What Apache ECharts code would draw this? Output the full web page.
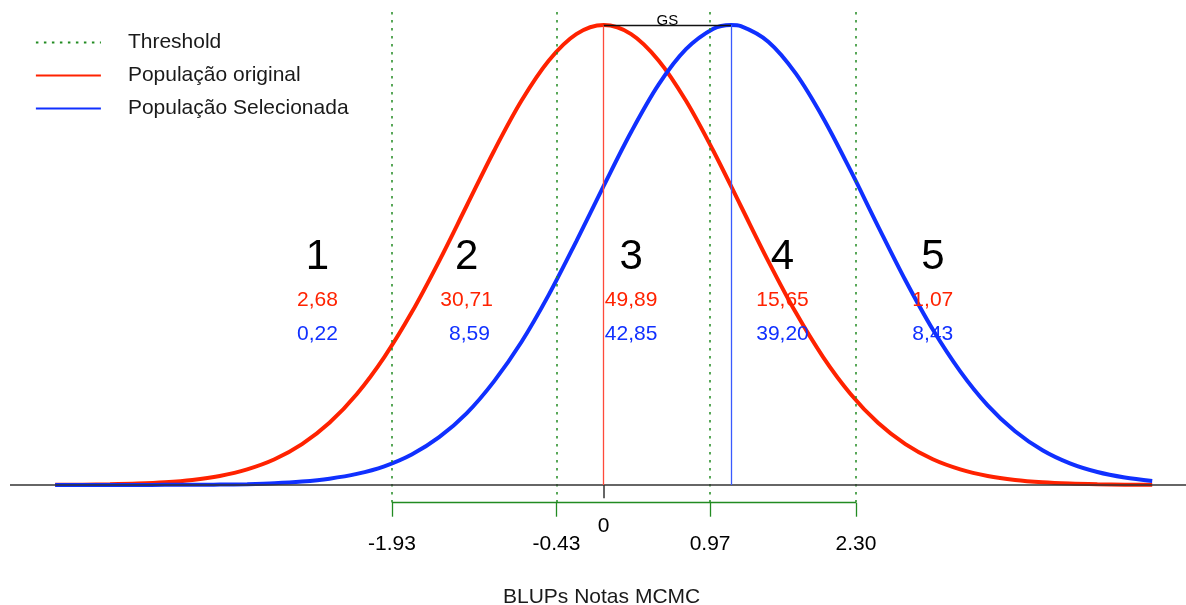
<!DOCTYPE html>
<html lang="pt" style="height: 100%">
<head>
  <meta charset="utf-8">
</head>
<body style="height: 100%; margin: 0; background: #fff">
  <div id="container" style="width: 1186px; height: 605px;"></div>

  <script type="text/javascript" src="https://cdn.jsdelivr.net/npm/echarts@6/dist/echarts.min.js"></script>
  <script type="text/javascript">
    // x grid where the red curve was read (BLUP scale)
    var originalX = [-5, -4.75, -4.5, -4.25, -4, -3.75, -3.5, -3.25, -3, -2.75, -2.5, -2.25, -2, -1.75, -1.5, -1.25, -1, -0.75, -0.5, -0.25,
      0, 0.25, 0.5, 0.75, 1, 1.25, 1.5, 1.75, 2, 2.25, 2.5, 2.75, 3, 3.25, 3.5, 3.75, 4, 4.25, 4.5, 4.75, 5];

    // density (original population)
    var originalDensity = [0.0001, 0.0002, 0.0005, 0.0010, 0.0019, 0.0035, 0.0063, 0.0109, 0.0179, 0.0284, 0.0432, 0.0632, 0.0888, 0.1198, 0.1554, 0.1936, 0.2318, 0.2666, 0.2946, 0.3129,
      0.3192, 0.3129, 0.2946, 0.2666, 0.2318, 0.1936, 0.1554, 0.1198, 0.0888, 0.0632, 0.0432, 0.0284, 0.0179, 0.0109, 0.0063, 0.0035, 0.0019, 0.0010, 0.0005, 0.0002, 0.0001];

    // x grid where the blue curve was read (its peak included)
    var selectedX = [-5, -4.75, -4.5, -4.25, -4, -3.75, -3.5, -3.25, -3, -2.75, -2.5, -2.25, -2, -1.75, -1.5, -1.25, -1, -0.75, -0.5, -0.25,
      0, 0.25, 0.5, 0.75, 1, 1.16, 1.25, 1.5, 1.75, 2, 2.25, 2.5, 2.75, 3, 3.25, 3.5, 3.75, 4, 4.25, 4.5, 4.75, 5];

    // density (selected population)
    var selectedDensity = [0.0000, 0.0000, 0.0000, 0.0000, 0.0001, 0.0001, 0.0003, 0.0006, 0.0012, 0.0024, 0.0044, 0.0077, 0.0130, 0.0212, 0.0332, 0.0497, 0.0719, 0.0992, 0.1321, 0.1691,
      0.2075, 0.2449, 0.2778, 0.3024, 0.3166, 0.3192, 0.3184, 0.3076, 0.2856, 0.2547, 0.2183, 0.1797, 0.1421, 0.1079, 0.0789, 0.0553, 0.0373, 0.0241, 0.0150, 0.0090, 0.0052, 0.0028];

    var originalMean = 0;
    var selectedMean = 1.16;
    var peakDensity = 0.3192;

    var thresholds = [-1.93, -0.43, 0.97, 2.30];

    var zoneNames = ['1', '2', '3', '4', '5'];
    var zoneX = [-2.61, -1.25, 0.25, 1.63, 3.0];
    var pctOriginal = [2.68, 30.71, 49.89, 15.65, 1.07];
    var pctSelected = [0.22, 8.59, 42.85, 39.20, 8.43];

    // vertical placement of the annotations, in density units
    var Y_MAX = 0.33655, Y_MIN = -0.08327;
    var Y_TOP = 0.3282, Y_BRACKET = -0.0123, Y_TICK = -0.0220, Y_ZERO_TICK = -0.0092;
    var Y_ZERO_LABEL = -0.0285, Y_THR_LABEL = -0.0412;
    var Y_ZONE = 0.1582, Y_PCT_ORIG = 0.1280, Y_PCT_SEL = 0.1048, Y_GS = 0.3223;

    var FONT = '"Liberation Sans", Arial, Helvetica, sans-serif';
    var GREEN = '#228b22';
    var RED = '#ff2200';
    var BLUE = '#1030ff';
    var DOTS = [2.5, 5.5];

    function pct(v) { return v.toFixed(2).replace('.', ','); }

    var redPts = originalX.map(function (x, i) { return [x, originalDensity[i]]; });
    var bluePts = selectedX.map(function (x, i) { return [x, selectedDensity[i]]; });

    var noSym = ['none', 'none'];

    // dotted threshold lines
    var thrLines = thresholds.map(function (t) {
      return [{ coord: [t, Y_TOP] }, { coord: [t, Y_BRACKET] }];
    });

    // bracket under the axis
    var bracketLines = [[{ coord: [thresholds[0], Y_BRACKET] }, { coord: [thresholds[thresholds.length - 1], Y_BRACKET] }]];
    thresholds.forEach(function (t) {
      bracketLines.push([{ coord: [t, Y_BRACKET] }, { coord: [t, Y_TICK] }]);
    });

    // texts
    var texts = [];
    zoneNames.forEach(function (z, k) {
      var a = pct(pctOriginal[k]), b = pct(pctSelected[k]);
      var w = Math.max(a.length, b.length);
      a = a.padStart(w, ' ');
      b = b.padStart(w, ' ');
      texts.push({ value: [zoneX[k], Y_ZONE], label: { formatter: z, fontSize: 42, color: '#000' } });
      texts.push({ value: [zoneX[k], Y_PCT_ORIG], label: { formatter: a, fontSize: 21, color: RED } });
      texts.push({ value: [zoneX[k], Y_PCT_SEL], label: { formatter: b, fontSize: 21, color: BLUE } });
    });
    thresholds.forEach(function (t) {
      texts.push({ value: [t, Y_THR_LABEL], label: { formatter: t.toFixed(2), fontSize: 21, color: '#000' } });
    });
    texts.push({ value: [originalMean, Y_ZERO_LABEL], label: { formatter: '0', fontSize: 21, color: '#000' } });
    texts.push({ value: [(originalMean + selectedMean) / 2, Y_GS], label: { formatter: 'GS', fontSize: 15, color: '#000' } });

    var dom = document.getElementById('container');
    var myChart = echarts.init(dom, null, { renderer: 'canvas' });

    var option = {
      animation: false,
      textStyle: { fontFamily: FONT },
      title: {
        text: 'BLUPs Notas MCMC',
        left: 503,
        top: 587,
        padding: 0,
        textStyle: { fontSize: 21, fontWeight: 'normal', color: '#1a1a1a', fontFamily: FONT }
      },
      legend: {
        orient: 'vertical',
        left: 30,
        top: 27,
        itemWidth: 65,
        itemHeight: 14,
        itemGap: 12,
        data: ['Threshold', 'População original', 'População Selecionada'],
        lineStyle: { width: 1.8 },
        itemStyle: { opacity: 0, borderWidth: 0 },
        textStyle: { fontSize: 21, color: '#1a1a1a', padding: [0, 0, 0, 22], fontFamily: FONT },
        selectedMode: false
      },
      grid: { left: 10, right: 0, top: 0, bottom: 0 },
      xAxis: { type: 'value', min: -5.412, max: 5.308, show: false },
      yAxis: { type: 'value', min: Y_MIN, max: Y_MAX, show: false },
      series: [
        {
          name: 'Threshold',
          type: 'line',
          data: [],
          symbol: 'none',
          color: GREEN,
          lineStyle: { color: GREEN, type: DOTS, width: 1.5 },
          markLine: {
            silent: true, symbol: noSym, label: { show: false },
            lineStyle: { color: GREEN, type: DOTS, width: 1.5 },
            data: thrLines
          },
          z: 1
        },
        {
          name: 'bracket',
          type: 'line',
          data: [],
          symbol: 'none',
          markLine: {
            silent: true, symbol: noSym, label: { show: false },
            lineStyle: { color: GREEN, type: 'solid', width: 1.3 },
            data: bracketLines
          },
          z: 1
        },
        {
          name: 'baseline',
          type: 'line',
          data: [],
          symbol: 'none',
          markLine: {
            silent: true, symbol: noSym, label: { show: false },
            lineStyle: { color: '#333', type: 'solid', width: 1.5 },
            data: [
              { yAxis: 0 },
              [{ coord: [originalMean, 0] }, { coord: [originalMean, Y_ZERO_TICK] }]
            ]
          },
          z: 2
        },
        {
          name: 'População original',
          type: 'line',
          data: redPts,
          smooth: 0.33,
          symbol: 'none',
          color: RED,
          lineStyle: { color: RED, width: 4 },
          markLine: {
            silent: true, symbol: noSym, label: { show: false },
            data: [[{ coord: [originalMean, 0], lineStyle: { color: '#ff4a3a', width: 1.3, type: 'solid' } },
              { coord: [originalMean, peakDensity] }]]
          },
          z: 3
        },
        {
          name: 'População Selecionada',
          type: 'line',
          data: bluePts,
          smooth: 0.33,
          symbol: 'none',
          color: BLUE,
          lineStyle: { color: BLUE, width: 4 },
          markLine: {
            silent: true, symbol: noSym, label: { show: false },
            data: [
              [{ coord: [selectedMean, 0], lineStyle: { color: '#3a5aff', width: 1.3, type: 'solid' } },
                { coord: [selectedMean, peakDensity] }],
              [{ coord: [originalMean, peakDensity], lineStyle: { color: '#111', width: 1.3, type: 'solid' } },
                { coord: [selectedMean, peakDensity] }]
            ]
          },
          z: 4
        },
        {
          name: 'texts',
          type: 'scatter',
          data: texts,
          symbolSize: 1,
          itemStyle: { color: 'rgba(0,0,0,0)', opacity: 1 },
          silent: true,
          label: { show: true, position: 'inside', fontFamily: FONT, opacity: 1 },
          z: 5
        }
      ]
    };

    myChart.setOption(option);
    window.addEventListener('resize', myChart.resize);
  </script>
</body>
</html>
